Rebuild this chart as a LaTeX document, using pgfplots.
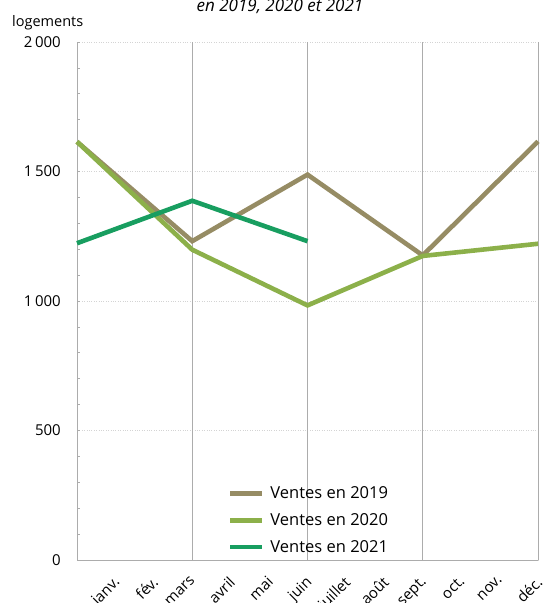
\documentclass[border=0pt]{standalone}
\usepackage{pgfplots}
\pgfplotsset{compat=1.18}
\usepackage{fontspec}
\setmainfont{Open Sans}

\definecolor{c2019}{RGB}{150,140,100}
\definecolor{c2020}{RGB}{140,176,74}
\definecolor{c2021}{RGB}{24,158,96}
\definecolor{gridv}{RGB}{172,172,172}
\definecolor{gridh}{RGB}{212,212,212}

\newcommand{\tck}{\fontsize{15}{17}\selectfont}
\newcommand{\leg}{\fontsize{16.5}{19}\selectfont}

\begin{document}
\begin{tikzpicture}[x=1pt,y=1pt]
\begin{axis}[
  at={(77pt,43pt)}, anchor=south west,
  scale only axis, width=461pt, height=518pt,
  xmin=0, xmax=12, ymin=0, ymax=2000,
  clip=false,
  axis x line*=bottom, axis y line*=left,
  axis line style={gridv, line width=0.8pt, -},
  xtick={0.5,1.5,...,11.5},
  xticklabels={janv.,fév.,mars,avril,mai,juin,juillet,août,sept.,oct.,nov.,déc.},
  x tick style={draw=none},
  xticklabel style={font=\tck, inner sep=0pt, xshift=16.5pt, yshift=-15pt, rotate=45, anchor=north east},
  extra x ticks={3,6,9,12},
  extra x tick labels={},
  extra x tick style={grid=major, major grid style={solid, gridv, line width=0.8pt}, major tick length=0pt},
  ytick={0,500,...,2000},
  minor y tick num=4,
  y tick style={gridv, line width=0.6pt},
  tick align=inside, major tick length=3pt, minor tick length=3pt,
  ymajorgrids,
  every axis y grid/.style={gridh, dotted, line width=0.8pt},
  yticklabel style={font=\tck, inner sep=0pt, anchor=east, xshift=-16pt},
  legend style={at={(rel axis cs:0.327,0.146)}, anchor=north west, draw=none, fill=none,
    font=\leg, row sep=9.5pt, inner sep=0pt},
  legend cell align=left,
  legend image code/.code={\draw[#1, line width=4.5pt] (0pt,0pt) -- (32pt,0pt); \path (36pt,0pt);},
  /pgf/number format/1000 sep={\,},
  /pgf/number format/assume math mode=true,
]
\addplot[c2019, line width=4.6pt] coordinates {(0,1615) (3,1231) (6,1488) (9,1176) (12,1616)};
\addlegendentry{Ventes en 2019}
\addplot[c2020, line width=4.6pt] coordinates {(0,1615) (3,1198) (6,983) (9,1174) (12,1221)};
\addlegendentry{Ventes en 2020}
\addplot[c2021, line width=4.6pt] coordinates {(0,1223) (3,1387) (6,1231)};
\addlegendentry{Ventes en 2021}
\end{axis}
\node[anchor=base, font=\fontsize{17}{20}\selectfont\itshape, inner sep=0pt] at (280pt,591pt) {en 2019, 2020 et 2021};
\node[anchor=base west, font=\fontsize{14.5}{17}\selectfont, inner sep=0pt] at (12pt,576pt) {logements};
\pgfresetboundingbox
\useasboundingbox (0,0) rectangle (542pt,603pt);
\end{tikzpicture}
\end{document}
